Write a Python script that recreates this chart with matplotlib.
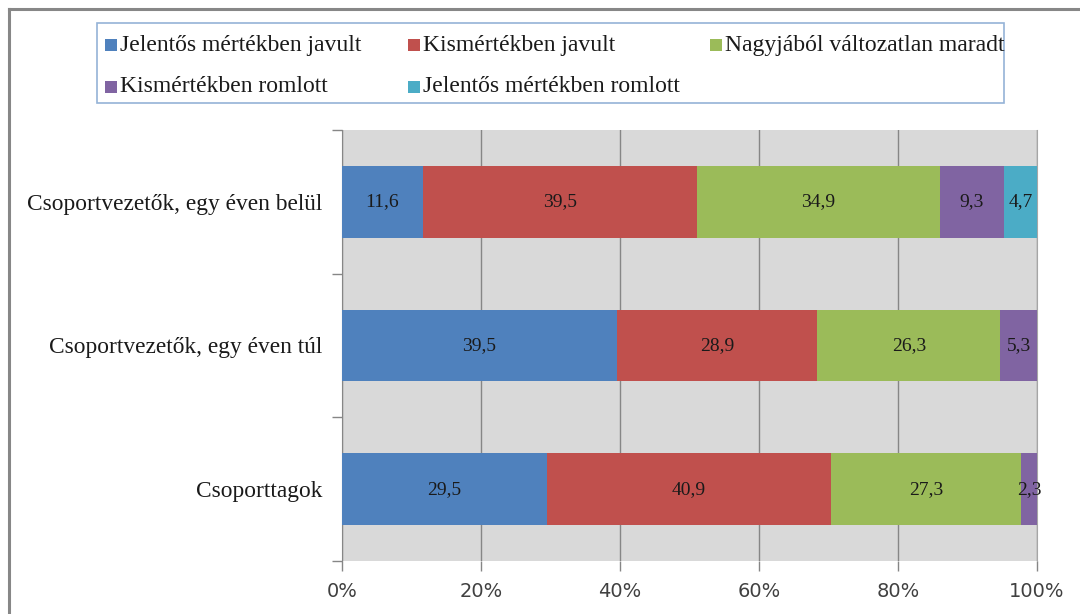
import matplotlib
matplotlib.use("Agg")
import matplotlib.pyplot as plt
from matplotlib.patches import Rectangle
from matplotlib.lines import Line2D
import numpy as np

categories = ["Csoportvezetők, egy éven belül", "Csoportvezetők, egy éven túl", "Csoporttagok"]
series_names = ["Jelentős mértékben javult", "Kismértékben javult", "Nagyjából változatlan maradt",
                "Kismértékben romlott", "Jelentős mértékben romlott"]
javult_jelentos = [11.6, 39.5, 29.5]
javult_kis = [39.5, 28.9, 40.9]
valtozatlan = [34.9, 26.3, 27.3]
romlott_kis = [9.3, 5.3, 2.3]
romlott_jelentos = [4.7, 0.0, 0.0]
x_ticks = [0, 20, 40, 60, 80, 100]
x_tick_labels = ["0%", "20%", "40%", "60%", "80%", "100%"]

colors = ["#4f81bd", "#c0504d", "#9bbb59", "#8064a2", "#4bacc6"]
series = [javult_jelentos, javult_kis, valtozatlan, romlott_kis, romlott_jelentos]

W, H = 1080, 614
fig = plt.figure(figsize=(W / 100, H / 100), dpi=100)
ax = fig.add_axes([342 / W, 1 - 561 / H, 695 / W, 431 / H])
ax.set_facecolor("#d9d9d9")

y = np.arange(len(categories))
left = np.zeros(len(categories))
for vals, col, name in zip(series, colors, series_names):
    vals = np.array(vals)
    bars = ax.barh(y, vals, left=left, height=0.5, color=col, label=name, zorder=3)
    for b, v in zip(bars, vals):
        if v > 0:
            ax.text(b.get_x() + b.get_width() / 2, b.get_y() + b.get_height() / 2,
                    f"{v:.1f}".replace(".", ","), ha="center", va="center",
                    fontsize=14, family="Liberation Serif", color="#1a1a1a", zorder=4)
    left += vals

ax.set_xlim(0, 100)
ax.set_ylim(len(categories) - 0.5, -0.5)
ax.set_xticks(x_ticks)
ax.set_xticklabels(x_tick_labels, fontsize=14, family="DejaVu Sans", color="#404040")
ax.set_yticks(y)
ax.set_yticklabels(categories, fontsize=16.8, family="Liberation Serif", color="#1a1a1a")
ax.set_yticks(np.arange(len(categories) + 1) - 0.5, minor=True)
ax.tick_params(axis="y", which="major", length=0, pad=14)
ax.tick_params(axis="y", which="minor", length=7, color="#868686", width=1)
ax.tick_params(axis="x", which="major", length=7, color="#868686", width=1, pad=8)
ax.grid(axis="x", color="#868686", linewidth=1, zorder=1)
ax.set_axisbelow(True)
for s in ["top", "bottom"]:
    ax.spines[s].set_visible(False)
ax.spines["left"].set_color("#868686")
ax.spines["right"].set_color("#a6a6a6")

# outer chart frame (partially visible)
fig.add_artist(Line2D([9 / W, 9 / W], [0, 1 - 9 / H], color="#878787", linewidth=2.2))
fig.add_artist(Line2D([9 / W, 1], [1 - 9 / H, 1 - 9 / H], color="#878787", linewidth=2.2))

# legend box
fig.add_artist(Rectangle((97 / W, 1 - 103 / H), 907 / W, 80 / H, transform=fig.transFigure,
                         facecolor="white", edgecolor="#95b3d7", linewidth=1.2))
leg_x = [105, 408, 710, 105, 408]
leg_y = [45, 45, 45, 87, 87]
for name, col, lx, ly in zip(series_names, colors, leg_x, leg_y):
    fig.add_artist(Rectangle((lx / W, 1 - (ly + 6) / H), 12 / W, 12 / H, transform=fig.transFigure,
                             facecolor=col, edgecolor="none"))
    fig.text((lx + 15) / W, 1 - ly / H, name, ha="left", va="center", fontsize=17,
             family="Liberation Serif", color="#1a1a1a")

fig.savefig("out.png", dpi=100)
